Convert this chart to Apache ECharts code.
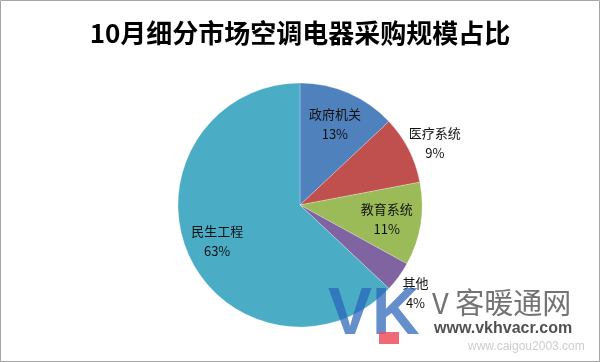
<!DOCTYPE html>
<html><head><meta charset="utf-8">
<script src="https://cdn.jsdelivr.net/npm/echarts@6/dist/echarts.min.js"></script>
<style>html,body{margin:0;padding:0;background:#fff}#c{width:600px;height:362px}</style>
</head><body><div id="c"></div>
<script>
var titleText = '10月细分市场空调电器采购规模占比';
var categories = ['政府机关', '医疗系统', '教育系统', '其他', '民生工程'];
var values = [13, 9, 11, 4, 63];
var colors = ['#4F81BD', '#C0504D', '#9BBB59', '#8064A2', '#4BACC6'];
var labelRadiusFactor = [0.72, 1.24, 0.72, 1.17, 0.74];
var labelShiftY = [0, 7, 0, 4, 0];

var CX = 300, CY = 205, R = 122;
var chart = echarts.init(document.getElementById('c'), null, {renderer: 'canvas'});
chart.setOption({
  backgroundColor: '#fff',
  animation: false,
  title: {
    text: titleText, left: 'center', top: 15,
    textStyle: {fontFamily: 'Noto Sans CJK SC', fontWeight: 'bold', fontSize: 26, color: '#000'}
  },
  graphic: [
    {type: 'rect', shape: {x: 0.5, y: 0.5, width: 599, height: 361}, style: {fill: 'none', stroke: '#a6a6a6', lineWidth: 1}, z: 100},
    {type: 'text', left: 328, top: 283, z: 50, style: {text: 'VK', fill: 'rgba(40,100,185,0.72)', font: 'bold 66px Liberation Sans'}},
    {type: 'rect', shape: {x: 379, y: 332, width: 20, height: 12}, style: {fill: 'rgba(235,80,95,0.85)'}, z: 51},
    {type: 'text', left: 432, top: 288, z: 50, style: {text: 'V 客暖通网', fill: 'rgba(90,90,90,0.85)', font: '29px Noto Sans CJK SC'}},
    {type: 'text', left: 434, top: 321, z: 50, style: {text: 'www.vkhvacr.com', fill: 'rgba(50,50,50,0.85)', font: 'bold 16px Liberation Sans'}},
    {type: 'text', left: 468, top: 341, z: 49, style: {text: 'www.caigou2003.com', fill: 'rgba(170,170,170,0.6)', font: '12px Liberation Sans'}}
  ],
  series: [{
    type: 'pie',
    center: [CX, CY],
    radius: [0, R],
    startAngle: 90,
    clockwise: true,
    data: categories.map(function (c, i) {
      return {name: c, value: values[i], itemStyle: {color: colors[i]}};
    }),
    itemStyle: {borderColor: 'rgba(255,255,255,0.5)', borderWidth: 0.5},
    label: {
      show: true, position: 'inside',
      formatter: '{b}\n{d}%',
      fontFamily: 'Noto Sans CJK SC', fontSize: 13, color: '#111', lineHeight: 20, align: 'center'
    },
    labelLine: {show: false},
    emphasis: {disabled: true},
    labelLayout: function (p) {
      var r = p.labelRect;
      var lx = r.x + r.width / 2, ly = r.y + r.height / 2;
      var dx = lx - CX, dy = ly - CY;
      var d = Math.sqrt(dx * dx + dy * dy) || 1;
      var target = labelRadiusFactor[p.dataIndex] * R;
      return {x: CX + dx / d * target, y: CY + dy / d * target + labelShiftY[p.dataIndex], align: 'center', verticalAlign: 'middle'};
    }
  }]
});
</script></body></html>
